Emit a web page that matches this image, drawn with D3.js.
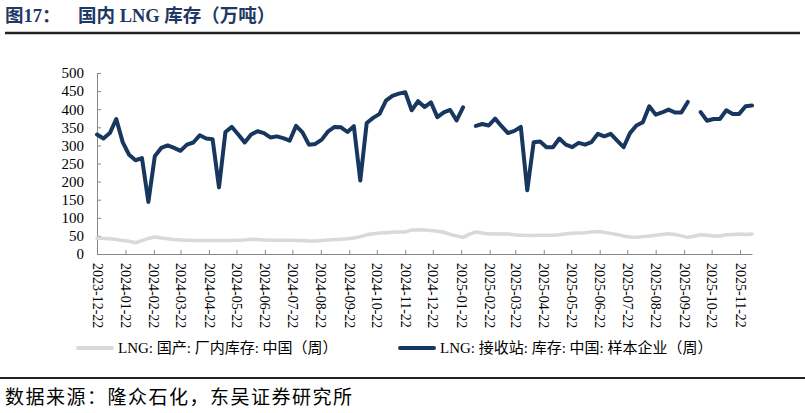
<!DOCTYPE html>
<html>
<head>
<meta charset="utf-8">
<script src="https://cdn.jsdelivr.net/npm/d3@7"></script>
<style>
  body { margin: 0; background: #fff; }
  svg { display: block; }
  .tick text { font-family: "Liberation Serif", "Times New Roman", serif; }
</style>
</head>
<body>
<div id="chart"></div>
<script>
var w = 805, h = 413;

// weekly data, first week 2023-12-22
var startDate = "2023-12-22";
var tickLabels = ["2023-12-22","2024-01-22","2024-02-22","2024-03-22","2024-04-22","2024-05-22",
  "2024-06-22","2024-07-22","2024-08-22","2024-09-22","2024-10-22","2024-11-22","2024-12-22",
  "2025-01-22","2025-02-22","2025-03-22","2025-04-22","2025-05-22","2025-06-22","2025-07-22",
  "2025-08-22","2025-09-22","2025-10-22","2025-11-22"];
var yTicks = [0,50,100,150,200,250,300,350,400,450,500];

// LNG: 国产: 厂内库存: 中国 (周)
var domestic = [44,43,42,40,37,35,31,37,43,47,44,42,40,39,38,37,37,37,37,37,
  37,37,38,39,41,40,39,38,38,38,38,37,37,36,36,37,39,40,41,42,
  44,48,53,56,58,59,60,61,61,66,67,66,65,63,60,54,50,46,55,61,
  58,55,56,55,55,53,52,51,51,52,52,52,53,56,57,58,59,61,62,60,
  57,54,50,47,46,48,50,52,54,56,54,50,46,49,53,52,50,50,53,54,
  55,54,55];

// LNG: 接收站: 库存: 中国: 样本企业 (周)
var terminal = [330,319,334,373,309,274,259,265,144,270,293,300,293,285,302,308,328,319,317,184,
  337,351,330,308,330,339,334,322,325,320,313,354,336,302,304,316,339,351,350,337,
  353,203,362,376,387,424,437,443,447,397,422,406,419,378,391,398,369,405,null,354,
  359,355,374,353,334,340,351,176,309,311,295,295,319,302,295,307,302,309,332,325,
  332,313,295,334,355,364,408,385,391,399,391,391,420,null,392,368,373,373,397,387,
  387,408,410];

var parse = d3.timeParse("%Y-%m-%d");
var fmt = d3.timeFormat("%Y-%m-%d");
var t0 = parse(startDate);
var dates = domestic.map(function(d, i){ return d3.timeDay.offset(t0, 7*i); });

var margin = {left: 97, right: 53, top: 73, bottom: 159};
var x = d3.scaleTime()
  .domain([t0, dates[dates.length-1]])
  .range([margin.left, w - margin.right]);
var y = d3.scaleLinear().domain([0, 500]).range([h - margin.bottom, margin.top]);

var svg = d3.select("#chart").append("svg").attr("width", w).attr("height", h);

// title
var titleFont = "'Liberation Serif', 'Noto Sans CJK SC', serif";
svg.append("text")
  .attr("x", 5).attr("y", 22)
  .attr("fill", "#1f3864").attr("font-weight", "bold")
  .attr("font-size", 18.5).attr("font-family", titleFont)
  .text("图17：");
svg.append("text")
  .attr("x", 78).attr("y", 22)
  .attr("fill", "#1f3864").attr("font-weight", "bold")
  .attr("font-size", 18.5).attr("font-family", titleFont)
  .text("国内 LNG 库存（万吨）");
svg.append("line")
  .attr("x1", 5).attr("x2", 800).attr("y1", 33).attr("y2", 33)
  .attr("stroke", "#222").attr("stroke-width", 2.5);

// axes
var yAxis = svg.append("g")
  .attr("transform", "translate(" + margin.left + ",0)")
  .call(d3.axisLeft(y).tickValues(yTicks).tickSizeInner(-4).tickSizeOuter(0).tickPadding(13));
yAxis.selectAll("text").attr("font-size", 15).attr("fill", "#000");

var xAxis = svg.append("g")
  .attr("transform", "translate(0," + y(0) + ")")
  .call(d3.axisBottom(x).tickValues(tickLabels.map(parse)).tickFormat(fmt).tickSizeInner(-4).tickSizeOuter(0));
xAxis.selectAll("text")
  .attr("font-size", 14).attr("fill", "#000")
  .attr("text-anchor", "start")
  .attr("transform", "rotate(90)")
  .attr("x", 9).attr("y", 0).attr("dy", "0.35em");

svg.selectAll(".domain, .tick line").attr("stroke", "#888");

// lines
var line = d3.line()
  .defined(function(d){ return d[1] != null; })
  .x(function(d){ return x(d[0]); })
  .y(function(d){ return y(d[1]); });

svg.append("path")
  .datum(dates.map(function(d, i){ return [d, domestic[i]]; }))
  .attr("d", line)
  .attr("fill", "none").attr("stroke", "#d9d9d9").attr("stroke-width", 3.5)
  .attr("stroke-linejoin", "round").attr("stroke-linecap", "round");

svg.append("path")
  .datum(dates.map(function(d, i){ return [d, terminal[i]]; }))
  .attr("d", line)
  .attr("fill", "none").attr("stroke", "#17375e").attr("stroke-width", 4)
  .attr("stroke-linejoin", "round").attr("stroke-linecap", "round");

// legend
var legend = [
  {name: "LNG: 国产: 厂内库存: 中国（周）", color: "#d9d9d9", x: 78},
  {name: "LNG: 接收站: 库存: 中国: 样本企业（周）", color: "#17375e", x: 400}
];
legend.forEach(function(l){
  svg.append("line")
    .attr("x1", l.x).attr("x2", l.x + 34).attr("y1", 348).attr("y2", 348)
    .attr("stroke", l.color).attr("stroke-width", 4).attr("stroke-linecap", "round");
  svg.append("text")
    .attr("x", l.x + 40).attr("y", 353)
    .attr("font-size", 15)
    .attr("font-family", "'Liberation Serif', 'Noto Sans CJK SC', serif")
    .text(l.name);
});

// source
svg.append("line")
  .attr("x1", 0).attr("x2", 805).attr("y1", 378).attr("y2", 378)
  .attr("stroke", "#222").attr("stroke-width", 2);
svg.append("text")
  .attr("x", 5).attr("y", 404)
  .attr("font-size", 19)
  .attr("letter-spacing", 1.5)
  .attr("font-family", "'Noto Sans CJK SC', sans-serif")
  .text("数据来源：隆众石化，东吴证券研究所");
</script>
</body>
</html>
